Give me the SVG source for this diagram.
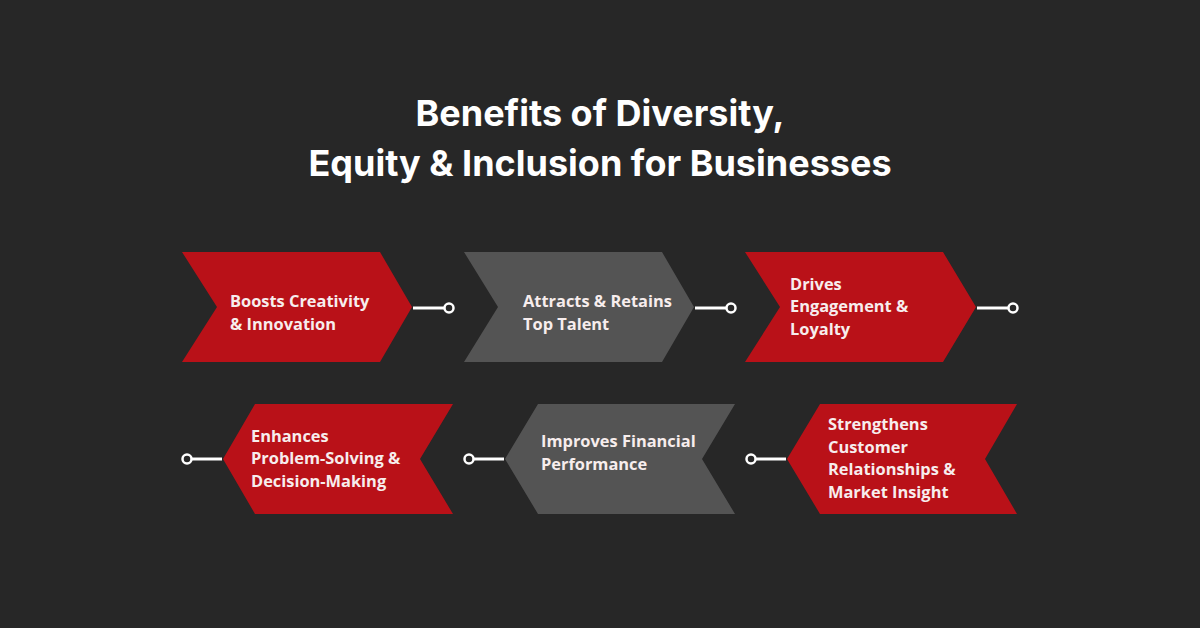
<svg xmlns="http://www.w3.org/2000/svg" width="1200" height="628" viewBox="0 0 1200 628">
<style>
.bg{fill:#272727}
.red{fill:#b91118}
.gray{fill:#545454}
.title{font-family:"Inter","Open Sans",sans-serif;font-weight:700;font-size:36px;fill:#ffffff;text-anchor:middle}
.lbl{font-family:"Open Sans","Liberation Sans",sans-serif;font-weight:700;font-size:16.4px;fill:#f7eded}
.conn line{stroke:#ffffff;stroke-width:3}
.conn circle{fill:#272727;stroke:#ffffff;stroke-width:2.5}
</style>
<rect class="bg" width="1200" height="628"/>
<g id="title">
<text class="title" x="600" y="126">Benefits of Diversity,</text>
<text class="title" x="600" y="176">Equity &amp; Inclusion for Businesses</text>
</g>
<g id="node1">
<polygon class="red" points="182,252 380,252 412,307 380,362 182,362 217,307"/>
<text class="lbl" x="230" y="307">Boosts Creativity</text>
<text class="lbl" x="230" y="330">&amp; Innovation</text>
</g>
<g id="node2">
<polygon class="gray" points="464,252 662,252 694,307 662,362 464,362 498,307"/>
<text class="lbl" x="523" y="307">Attracts &amp; Retains</text>
<text class="lbl" x="523" y="330">Top Talent</text>
</g>
<g id="node3">
<polygon class="red" points="745,252 943,252 976,307 943,362 745,362 780,307"/>
<text class="lbl" x="790" y="290">Drives</text>
<text class="lbl" x="790" y="312">Engagement &amp;</text>
<text class="lbl" x="790" y="335">Loyalty</text>
</g>
<g id="node4">
<polygon class="red" points="223,459 255,404 453,404 420,459 453,514 255,514"/>
<text class="lbl" x="251" y="442">Enhances</text>
<text class="lbl" x="251" y="464">Problem-Solving &amp;</text>
<text class="lbl" x="251" y="487">Decision-Making</text>
</g>
<g id="node5">
<polygon class="gray" points="505,459 538,404 735,404 702,459 735,514 538,514"/>
<text class="lbl" x="541" y="447">Improves Financial</text>
<text class="lbl" x="541" y="470">Performance</text>
</g>
<g id="node6">
<polygon class="red" points="787,459 820,404 1017,404 985,459 1017,514 820,514"/>
<text class="lbl" x="828" y="430">Strengthens</text>
<text class="lbl" x="828" y="453">Customer</text>
<text class="lbl" x="828" y="475">Relationships &amp;</text>
<text class="lbl" x="828" y="498">Market Insight</text>
</g>
<g id="connectors" class="conn">
<line x1="413" y1="308" x2="445" y2="308"/><circle cx="449" cy="308" r="4.5"/>
<line x1="695" y1="308" x2="727" y2="308"/><circle cx="731" cy="308" r="4.5"/>
<line x1="977" y1="308" x2="1009" y2="308"/><circle cx="1013" cy="308" r="4.5"/>
<line x1="191" y1="459" x2="222" y2="459"/><circle cx="187" cy="459" r="4.5"/>
<line x1="473" y1="459" x2="504" y2="459"/><circle cx="469" cy="459" r="4.5"/>
<line x1="755" y1="459" x2="786" y2="459"/><circle cx="751" cy="459" r="4.5"/>
</g>
</svg>
